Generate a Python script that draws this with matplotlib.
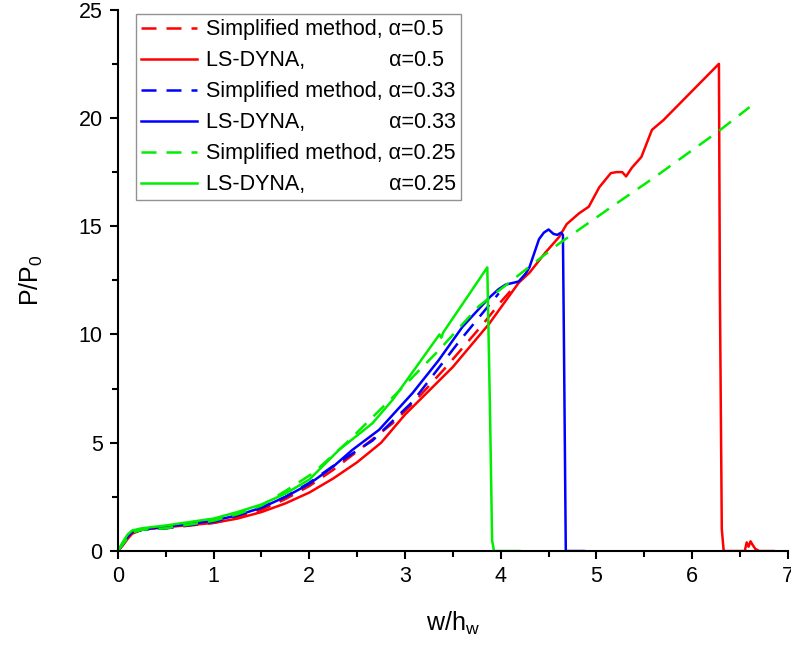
import matplotlib
matplotlib.use("Agg")
import matplotlib.pyplot as plt

plt.rcParams['font.family'] = ['Liberation Sans', 'DejaVu Sans']

# LS-DYNA, alpha=0.5
red_x = [0, 0.05, 0.1, 0.15, 0.25, 0.5, 1.0, 1.25, 1.5, 1.75, 2.0, 2.25, 2.5, 2.75, 3.0, 3.25, 3.5,
         3.88, 4.19, 4.3, 4.47, 4.61, 4.69, 4.82, 4.92, 5.03, 5.15, 5.21, 5.27, 5.31, 5.37, 5.47,
         5.58, 5.7, 6.28, 6.29, 6.31, 6.33, 6.55, 6.57, 6.59, 6.61, 6.63, 6.66, 6.7, 6.85]
red_y = [0, 0.25, 0.55, 0.8, 0.98, 1.1, 1.3, 1.5, 1.8, 2.2, 2.7, 3.35, 4.1, 5.0, 6.3, 7.4, 8.5,
         10.5, 12.4, 12.85, 13.8, 14.5, 15.1, 15.6, 15.9, 16.8, 17.45, 17.5, 17.5, 17.3, 17.7, 18.2,
         19.45, 19.9, 22.5, 12.0, 1.0, 0, 0, 0.4, 0.2, 0.45, 0.3, 0.1, 0, 0]
# Simplified method, alpha=0.5
red_s_x = [0, 0.05, 0.1, 0.15, 0.25, 0.5, 1.0, 1.25, 1.5, 1.75, 2.0, 2.25, 2.52, 2.87, 3.1, 3.43,
           3.8, 4.0, 4.3]
red_s_y = [0, 0.3, 0.6, 0.85, 0.98, 1.05, 1.3, 1.55, 1.9, 2.4, 3.0, 3.75, 4.67, 5.9, 6.9, 8.5,
           10.4, 11.5, 13.0]

# LS-DYNA, alpha=0.33
blue_x = [0, 0.05, 0.1, 0.15, 0.25, 0.5, 1.0, 1.25, 1.5, 1.75, 2.0, 2.25, 2.45, 2.73, 3.08, 3.35,
          3.6, 3.88, 3.98, 4.05, 4.19, 4.26, 4.3, 4.4, 4.45, 4.5, 4.55, 4.59, 4.63, 4.65, 4.66,
          4.68, 4.87]
blue_y = [0, 0.35, 0.65, 0.88, 1.0, 1.12, 1.4, 1.65, 2.0, 2.5, 3.1, 3.9, 4.67, 5.6, 7.3, 8.8,
          10.35, 11.7, 12.1, 12.3, 12.45, 12.8, 13.1, 14.4, 14.7, 14.85, 14.65, 14.6, 14.7, 14.6,
          10.0, 0, 0]
# Simplified method, alpha=0.33
blue_s_x = [0, 0.05, 0.1, 0.15, 0.25, 0.5, 1.0, 1.25, 1.5, 1.75, 2.0, 2.24, 2.66, 3.08, 3.57,
            3.98]
blue_s_y = [0, 0.3, 0.6, 0.85, 0.98, 1.05, 1.35, 1.65, 2.0, 2.5, 3.15, 3.9, 5.1, 6.9, 9.7, 11.9]

# LS-DYNA, alpha=0.25
green_x = [0, 0.05, 0.1, 0.15, 0.25, 0.5, 1.0, 1.25, 1.5, 1.75, 2.0, 2.31, 2.66, 2.87, 3.15,
           3.36, 3.38, 3.4, 3.6, 3.86, 3.89, 3.91, 3.93, 4.2]
green_y = [0, 0.4, 0.75, 0.95, 1.05, 1.18, 1.5, 1.8, 2.15, 2.65, 3.3, 4.67, 5.9, 6.98, 8.7, 10.0,
           9.85, 10.1, 11.4, 13.1, 6.0, 0.5, 0, 0]
# Simplified method, alpha=0.25
green_s_x = [0, 0.05, 0.1, 0.15, 0.25, 0.5, 1.0, 1.25, 1.5, 1.76, 2.04, 2.39, 2.94, 3.36, 3.77,
             4.19, 4.61, 5.16, 5.62, 6.28, 6.6]
green_s_y = [0, 0.3, 0.6, 0.85, 0.98, 1.05, 1.4, 1.7, 2.1, 2.8, 3.6, 5.0, 7.4, 9.3, 11.3, 12.75,
             14.2, 15.9, 17.3, 19.4, 20.5]

dash = (0, (6, 4))
fig = plt.figure(figsize=(7.91, 6.46), dpi=100)
ax = fig.add_axes([0.149, 0.147, 0.847, 0.838])

ax.plot(red_s_x, red_s_y, color='#ff0000', lw=1.8, linestyle=dash, label='Simplified method, α=0.5')
ax.plot(red_x, red_y, color='#ff0000', lw=1.8, label='LS-DYNA,              α=0.5')
ax.plot(blue_s_x, blue_s_y, color='#0000ff', lw=1.8, linestyle=dash, label='Simplified method, α=0.33')
ax.plot(blue_x, blue_y, color='#0000ff', lw=1.8, label='LS-DYNA,              α=0.33')
ax.plot(green_s_x, green_s_y, color='#00ee00', lw=1.8, linestyle=dash, label='Simplified method, α=0.25')
ax.plot(green_x, green_y, color='#00ee00', lw=1.8, label='LS-DYNA,              α=0.25')

ax.set_xlim(0, 7)
ax.set_ylim(0, 25)
ax.set_xticks(range(0, 8))
ax.set_yticks([0, 5, 10, 15, 20, 25])
ax.set_xticks([0.5 + i for i in range(7)], minor=True)
ax.set_yticks([2.5 + 5 * i for i in range(5)], minor=True)
ax.spines['top'].set_visible(False)
ax.spines['right'].set_visible(False)
for s in ['left', 'bottom']:
    ax.spines[s].set_linewidth(1.5)
ax.tick_params(which='major', direction='out', length=6, width=1.5, labelsize=15.5, pad=5)
ax.tick_params(which='minor', direction='out', length=4, width=1.5)

ax.set_xlabel('w/h$_\\mathregular{w}$', fontsize=18, labelpad=16)
ax.set_ylabel('P/P$_\\mathregular{0}$', fontsize=18, labelpad=24)

leg = ax.legend(loc='upper left', bbox_to_anchor=(0.027, 0.992), fontsize=15.5,
                handlelength=2.6, handletextpad=0.4, labelspacing=0.46,
                fancybox=False, borderpad=0.25, borderaxespad=0, handleheight=0.6)
leg.get_frame().set_edgecolor('#777777')
leg.get_frame().set_linewidth(1.0)

plt.savefig('out.png', dpi=100)
